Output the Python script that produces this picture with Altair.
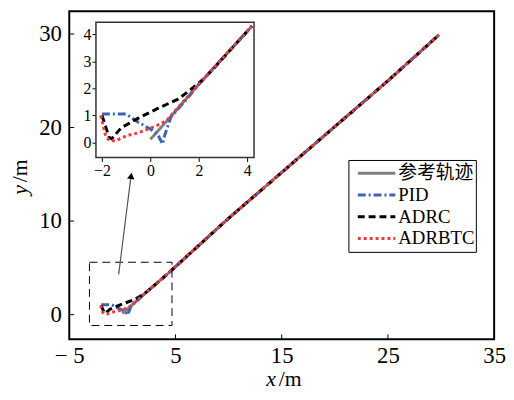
import altair as alt
import pandas as pd

series_names = ["参考轨迹", "PID", "ADRC", "ADRBTC"]
series_colors = ["#808080", "#3b63b8", "#000000", "#f03a3a"]
series_dashes = [[1, 0], [8, 3, 2, 3], [7, 4], [3, 3]]

ref_x = [0.0, 1.0, 2.0, 4.2, 10.0, 15.0, 20.0, 25.0, 29.8]
ref_y = [0.12, 1.12, 2.15, 4.3, 10.3, 15.2, 20.1, 25.0, 29.9]

pid_x = [-2.0, -1.0, -0.5, 0.0, 0.3, 0.5, 0.6, 0.85, 1.5, 2.0, 4.2, 10.0, 15.0, 20.0, 25.0, 29.8]
pid_y = [1.05, 1.05, 0.75, 0.5, 0.3, -0.05, 0.3, 0.95, 1.6, 2.15, 4.3, 10.3, 15.2, 20.1, 25.0, 29.9]

adrc_x = [-2.0, -1.7, -1.6, -1.2, -0.9, -0.5, 0.33, 1.14, 1.67, 2.2, 2.6, 4.2, 10.0, 15.0, 20.0, 25.0, 29.8]
adrc_y = [1.0, 0.18, 0.14, 0.55, 0.7, 0.9, 1.27, 1.6, 1.96, 2.35, 2.72, 4.3, 10.3, 15.2, 20.1, 25.0, 29.9]

adrbtc_x = [-2.05, -1.85, -1.7, -1.43, -1.0, -0.5, 0.05, 0.45, 0.73, 1.0, 2.0, 4.2, 10.0, 15.0, 20.0, 25.0, 29.8]
adrbtc_y = [1.0, 0.25, 0.07, 0.07, 0.25, 0.36, 0.55, 0.7, 0.87, 1.15, 2.15, 4.3, 10.3, 15.2, 20.1, 25.0, 29.9]

main_x_ticks = [-5, 5, 15, 25, 35]
main_y_ticks = [0, 10, 20, 30]
inset_x_ticks = [-2, 0, 2, 4]
inset_y_ticks = [0, 1, 2, 3, 4]

main_x_domain = [-5, 35]
main_y_domain = [-2.64, 32.43]
inset_x_domain = [-2.25, 4.28]
inset_y_domain = [-0.55, 4.44]

zoom_box = {"x": [-3.1], "x2": [4.67], "y": [-1.16], "y2": [5.6]}
arrow_line = {"x": [-0.35], "y": [4.3], "x2": [0.8], "y2": [14.7]}
arrow_head = {"x": [0.823], "y": [14.84]}

SERIF = "Liberation Serif, Times New Roman, serif"
LEG_FONT = "Liberation Serif, Times New Roman, Noto Sans CJK SC, serif"

rows = []
for name, xs, ys in zip(series_names, [ref_x, pid_x, adrc_x, adrbtc_x], [ref_y, pid_y, adrc_y, adrbtc_y]):
    for i, (xv, yv) in enumerate(zip(xs, ys)):
        rows.append({"series": name, "x": xv, "y": yv, "i": i})
df = pd.DataFrame(rows)
inset_df = df[(df.x <= 4.3) & (df.y <= 4.44)]

W, H = 430, 332

xs_main = alt.Scale(domain=main_x_domain, nice=False, zero=False)
ys_main = alt.Scale(domain=main_y_domain, nice=False, zero=False)

color_enc = alt.Color("series:N", scale=alt.Scale(domain=series_names, range=series_colors), legend=None)
dash_enc = alt.StrokeDash("series:N", scale=alt.Scale(domain=series_names, range=series_dashes), legend=None)

main_lines = alt.Chart(df).mark_line(strokeWidth=3, strokeCap="butt").encode(
    x=alt.X("x:Q", scale=xs_main, axis=alt.Axis(
        values=main_x_ticks, orient="bottom", ticks=False, domain=False, grid=False,
        labelFlush=False, labelPadding=5, labelFont=SERIF, labelFontSize=23, labelColor="black",
        labelExpr="datum.value < 0 ? '\u2212 ' + abs(datum.value) : datum.label", title=None)),
    y=alt.Y("y:Q", scale=ys_main, axis=alt.Axis(
        values=main_y_ticks, orient="left", ticks=False, domain=False, grid=False,
        labelFlush=False, labelPadding=8, labelFont=SERIF, labelFontSize=23, labelColor="black",
        title=None)),
    color=color_enc,
    strokeDash=dash_enc,
    order="i:Q",
)

box = alt.Chart(pd.DataFrame(zoom_box)).mark_rect(
    fill=None, stroke="black", strokeWidth=1, strokeDash=[8, 5]
).encode(x="x:Q", x2="x2:Q", y="y:Q", y2="y2:Q")

arrow = alt.Chart(pd.DataFrame(arrow_line)).mark_rule(color="#555555", strokeWidth=1.2).encode(
    x="x:Q", y="y:Q", x2="x2:Q", y2="y2:Q")

head = alt.Chart(pd.DataFrame(arrow_head)).mark_point(
    shape="triangle-up", filled=True, color="black", size=55, angle=7, opacity=1
).encode(x="x:Q", y="y:Q")

xt = alt.Chart(pd.DataFrame({"v": main_x_ticks[1:-1]})).mark_rule(color="black", strokeWidth=1).encode(
    x="v:Q", y=alt.value(H), y2=alt.value(H - 5))
yt = alt.Chart(pd.DataFrame({"v": main_y_ticks})).mark_rule(color="black", strokeWidth=1).encode(
    y="v:Q", x=alt.value(0), x2=alt.value(5))

t_x = alt.Chart(pd.DataFrame({"t": ["x"]})).mark_text(
    font=SERIF, fontSize=22, fontStyle="italic", color="black", align="right", baseline="middle"
).encode(text="t:N", x=alt.value(209), y=alt.value(372))
t_xm = alt.Chart(pd.DataFrame({"t": ["/m"]})).mark_text(
    font=SERIF, fontSize=22, color="black", align="left", baseline="middle"
).encode(text="t:N", x=alt.value(212), y=alt.value(372))
t_y = alt.Chart(pd.DataFrame({"t": ["y"]})).mark_text(
    font=SERIF, fontSize=22, fontStyle="italic", color="black", align="right", baseline="middle", angle=270
).encode(text="t:N", x=alt.value(-50), y=alt.value(176))
t_ym = alt.Chart(pd.DataFrame({"t": ["/m"]})).mark_text(
    font=SERIF, fontSize=22, color="black", align="left", baseline="middle", angle=270
).encode(text="t:N", x=alt.value(-50), y=alt.value(173))

main = alt.layer(main_lines, box, arrow, head, xt, yt, t_x, t_xm, t_y, t_ym)

xs_in = alt.Scale(domain=inset_x_domain, range=[27, 187], nice=False, zero=False)
ys_in = alt.Scale(domain=inset_y_domain, range=[148, 11], nice=False, zero=False)

inset_frame = alt.Chart(pd.DataFrame({
    "x": [inset_x_domain[0]], "x2": [inset_x_domain[1]],
    "y": [inset_y_domain[0]], "y2": [inset_y_domain[1]]})).mark_rect(
    fill="white", stroke="#333333", strokeWidth=1.5
).encode(
    x=alt.X("x:Q", scale=xs_in, axis=alt.Axis(
        values=inset_x_ticks, orient="bottom", offset=-(H - 148), domain=False, grid=False,
        ticks=True, tickSize=4, tickColor="black", labelFlush=False, labelPadding=1, format="d",
        labelFont=SERIF, labelFontSize=16, labelColor="black", title=None)),
    x2="x2:Q",
    y=alt.Y("y:Q", scale=ys_in, axis=alt.Axis(
        values=inset_y_ticks, orient="left", offset=-27, domain=False, grid=False,
        ticks=True, tickSize=4, tickColor="black", labelFlush=False, labelPadding=1, format="d",
        labelFont=SERIF, labelFontSize=16, labelColor="black", title=None)),
    y2="y2:Q",
)

inset_lines = alt.Chart(inset_df).mark_line(strokeWidth=3, strokeCap="butt").encode(
    x=alt.X("x:Q", scale=xs_in),
    y=alt.Y("y:Q", scale=ys_in),
    color=color_enc,
    strokeDash=dash_enc,
    order="i:Q",
)

inset = alt.layer(inset_frame, inset_lines)

# hand-drawn legend box
leg_df = pd.DataFrame({"series": series_names})
leg_y = alt.Y("series:N", scale=alt.Scale(type="point", domain=series_names, range=[164, 230], padding=0), axis=None)
leg_box = alt.Chart(pd.DataFrame({"a": [0]})).mark_rect(
    fill="white", stroke="black", strokeWidth=1
).encode(x=alt.value(283), x2=alt.value(412), y=alt.value(151), y2=alt.value(244))
leg_sym = alt.Chart(leg_df).mark_rule(strokeWidth=3, strokeCap="butt").encode(
    x=alt.value(292), x2=alt.value(330), y=leg_y, color=color_enc, strokeDash=dash_enc)
leg_txt = alt.Chart(leg_df).mark_text(
    font=LEG_FONT, fontSize=19, color="black", align="left", baseline="middle"
).encode(x=alt.value(333), y=leg_y, text="series:N")
leg = alt.layer(leg_box, leg_sym, leg_txt)

chart = alt.layer(main, inset, leg).resolve_scale(x="independent", y="independent").properties(
    width=W, height=H,
    padding={"left": 62, "top": 1, "right": 12, "bottom": 51},
    autosize=alt.AutoSizeParams(type="none"),
    background="white",
).configure_view(stroke="black", strokeWidth=2)

chart.save("out.html", embed_options={"renderer": "svg", "actions": False})
